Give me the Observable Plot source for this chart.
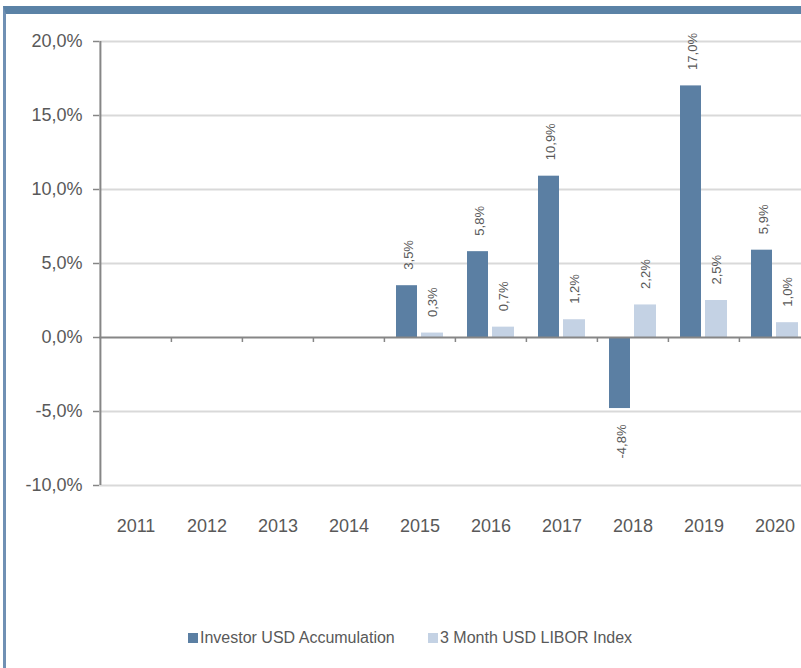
<!DOCTYPE html>
<html>
<head>
<meta charset="utf-8">
<script src="https://cdn.jsdelivr.net/npm/d3@7"></script>
<script src="https://cdn.jsdelivr.net/npm/@observablehq/plot@0.6"></script>
<style>
  html, body { margin: 0; padding: 0; background: #fff; }
  body { width: 801px; height: 668px; overflow: hidden; position: relative;
         font-family: "Liberation Sans", Arial, sans-serif; }
  #chart { position: absolute; left: 0; top: 0; }
  #frame { position: absolute; left: 3px; top: 6px; width: 830px; height: 700px;
           border-top: 8px solid #5b82a6; border-left: 3px solid #7090b4;
           box-sizing: border-box; z-index: 2; pointer-events: none; }
  #legend { position: absolute; top: 629px; left: 0; width: 801px; height: 18px; }
  .item { position: absolute; top: 0; height: 18px; line-height: 18px;
          font-size: 16px; color: #595959; white-space: nowrap; }
  .sw { display: inline-block; width: 10px; height: 10px; margin-right: 2px;
        vertical-align: 0px; }
</style>
</head>
<body>
<div id="chart"></div>
<div id="frame"></div>
<div id="legend"></div>
<script>
// ---- data ----
const years = ["2011","2012","2013","2014","2015","2016","2017","2018","2019","2020"];
const investor = [null, null, null, null, 3.5, 5.8, 10.9, -4.8, 17.0, 5.9];
const libor    = [null, null, null, null, 0.3, 0.7, 1.2, 2.2, 2.5, 1.0];
const seriesNames = ["Investor USD Accumulation", "3 Month USD LIBOR Index"];
const yTicks = [-10, -5, 0, 5, 10, 15, 20];

const darkColor = "#5b7fa3";
const lightColor = "#c4d2e4";
const textColor = "#595959";
const axisColor = "#868686";

const fmt = v => v.toFixed(1).replace(".", ",") + "%";

const inv = years.map((year, i) => ({year, value: investor[i]})).filter(d => d.value != null);
const lib = years.map((year, i) => ({year, value: libor[i]})).filter(d => d.value != null);

const plot = Plot.plot({
  width: 801,
  height: 560,
  marginTop: 41,
  marginBottom: 75,
  marginLeft: 99,
  marginRight: 0,
  style: {fontFamily: "'Liberation Sans', Arial, sans-serif", color: textColor, background: "transparent", overflow: "visible"},
  x: {domain: years, range: [99, 811], padding: 0},
  y: {domain: [-10, 20]},
  marks: [
    Plot.ruleY(yTicks.filter(t => t !== 0), {stroke: "#d9d9d9", strokeWidth: 2}),
    Plot.barY(inv, {x: "year", y: "value", fill: darkColor, insetLeft: 12, insetRight: 38}),
    Plot.barY(lib, {x: "year", y: "value", fill: lightColor, insetLeft: 37, insetRight: 12}),
    Plot.ruleY([0], {stroke: axisColor, strokeWidth: 2}),
    Plot.ruleX([years[0]], {dx: -35.6, y1: -10, y2: 20, stroke: axisColor, strokeWidth: 2}),
    Plot.ruleX(years.slice(1), {dx: -35.6, y1: 0, y2: 0, insetBottom: -5, stroke: axisColor, strokeWidth: 1.5}),
    Plot.axisY({ticks: yTicks, tickFormat: fmt, tickSize: 6, tickPadding: 11, fontSize: 18,
                stroke: axisColor, fill: textColor, strokeWidth: 1.5, label: null}),
    Plot.axisX({tickSize: 0, tickPadding: 34, fontSize: 18, fill: textColor, label: null}),
    Plot.text(inv.filter(d => d.value >= 0), {x: "year", y: "value", text: d => fmt(d.value),
      rotate: -90, textAnchor: "start", dx: -11, dy: -16, fontSize: 13, fill: textColor}),
    Plot.text(inv.filter(d => d.value < 0), {x: "year", y: "value", text: d => fmt(d.value),
      rotate: -90, textAnchor: "end", dx: -11, dy: 16, fontSize: 13, fill: textColor}),
    Plot.text(lib, {x: "year", y: "value", text: d => fmt(d.value),
      rotate: -90, textAnchor: "start", dx: 13, dy: -16, fontSize: 13, fill: textColor})
  ]
});
document.getElementById("chart").appendChild(plot);

// legend
const legend = document.getElementById("legend");
const lefts = [188, 428];
const colors = [darkColor, lightColor];
seriesNames.forEach((name, i) => {
  const it = document.createElement("div");
  it.className = "item";
  it.style.left = lefts[i] + "px";
  const sw = document.createElement("span");
  sw.className = "sw";
  sw.style.background = colors[i];
  it.appendChild(sw);
  it.appendChild(document.createTextNode(name));
  legend.appendChild(it);
});
</script>
</body>
</html>
